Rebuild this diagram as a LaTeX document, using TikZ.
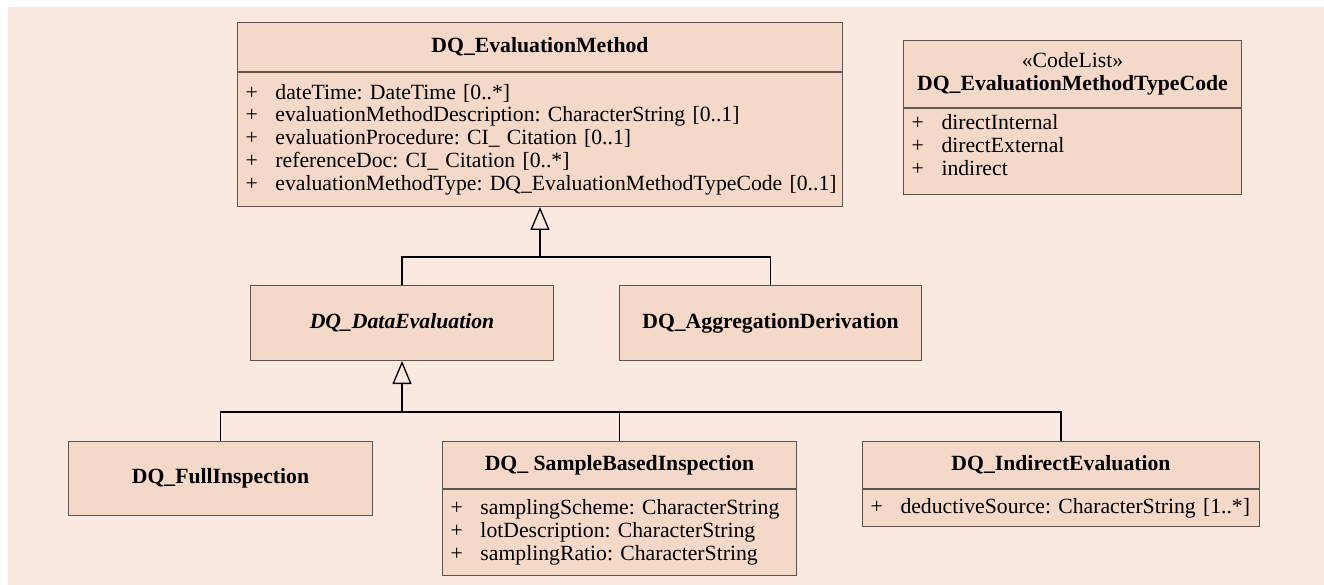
\documentclass[tikz,border=0pt]{standalone}
\usepackage{fontspec}
\setmainfont{Liberation Serif}
\usetikzlibrary{positioning,arrows.meta}

\definecolor{panelbg}{HTML}{FAE9E1}
\definecolor{classfill}{HTML}{F4D8C8}
\definecolor{classline}{HTML}{5E5450}

\frenchspacing
\newcommand{\umlfont}{\fontsize{21.7}{22.7}\selectfont}
\newcommand{\attrline}[1]{\makebox[30pt][l]{+}\mbox{#1}}

\tikzset{
  classhead/.style={draw=classline, fill=classfill, line width=1pt, font=\umlfont\bfseries,
    align=center, inner sep=2pt, anchor=north west},
  classattr/.style={draw=classline, fill=classfill, line width=1pt, font=\umlfont,
    align=left, inner xsep=8pt, inner ysep=2pt},
  genline/.style={draw=black, line width=1.3pt},
  genarrow/.style={genline, -{Triangle[length=23pt,width=19pt,fill=panelbg]}},
}

\begin{document}
\begin{tikzpicture}[x=1pt, y=-1pt]
  \useasboundingbox (0,0) rectangle (1324,585);
  \fill[panelbg] (8,7) rectangle (1324,585);

  % root class
  \node[classhead, minimum width=605pt, minimum height=49pt] (evalhead) at (237,22) {DQ\_EvaluationMethod};
  \node[classattr, below=0pt of evalhead, text width=589pt, minimum height=134pt] (evalattr) {%
    \attrline{dateTime: DateTime [0..*]}\\
    \attrline{evaluationMethodDescription: CharacterString [0..1]}\\
    \attrline{evaluationProcedure: CI\_ Citation [0..1]}\\
    \attrline{referenceDoc: CI\_ Citation [0..*]}\\
    \attrline{evaluationMethodType: DQ\_EvaluationMethodTypeCode [0..1]}};

  % code list, values sit at the top of the compartment
  \node[classhead, minimum width=338pt, minimum height=67pt, font=\umlfont] (codehead) at (903,40)
    {«CodeList»\\\textbf{DQ\_EvaluationMethodTypeCode}};
  \node[classattr, below=0pt of codehead, text width=322pt, minimum height=86pt] (codeattr) {%
    \attrline{directInternal}\\
    \attrline{directExternal}\\
    \attrline{indirect}\\[-10pt]\mbox{}};

  % second level
  \node[classhead, minimum width=303pt, minimum height=75pt, font=\umlfont\bfseries\itshape] (dataeval) at (250,285) {DQ\_DataEvaluation};
  \node[classhead, minimum width=302pt, minimum height=75pt] (aggderiv) at (619,285) {DQ\_AggregationDerivation};

  % third level
  \node[classhead, minimum width=304pt, minimum height=74pt] (fullinsp) at (68,441) {DQ\_FullInspection};
  \node[classhead, minimum width=354pt, minimum height=47pt] (samplehead) at (442,441) {DQ\_ SampleBasedInspection};
  \node[classattr, below=0pt of samplehead, text width=338pt, minimum height=86pt] (sampleattr) {%
    \attrline{samplingScheme: CharacterString}\\
    \attrline{lotDescription: CharacterString}\\
    \attrline{samplingRatio: CharacterString}};
  \node[classhead, minimum width=397pt, minimum height=47pt] (indirhead) at (862,441) {DQ\_IndirectEvaluation};
  \node[classattr, below=0pt of indirhead, text width=381pt, minimum height=37pt] (indirattr) {%
    \attrline{deductiveSource: CharacterString [1..*]}};

  % generalizations
  \coordinate (upperbus) at (evalattr.south |- 0,257);
  \draw[genarrow] (dataeval.north) |- (upperbus) -- (evalattr.south);
  \draw[genline] (aggderiv.north) |- (upperbus);

  \coordinate (lowerbus) at (dataeval.south |- 0,412);
  \draw[genarrow] (fullinsp.north) |- (lowerbus) -- (dataeval.south);
  \draw[genline] (samplehead.north) |- (lowerbus);
  \draw[genline] (indirhead.north) |- (lowerbus);
\end{tikzpicture}
\end{document}
